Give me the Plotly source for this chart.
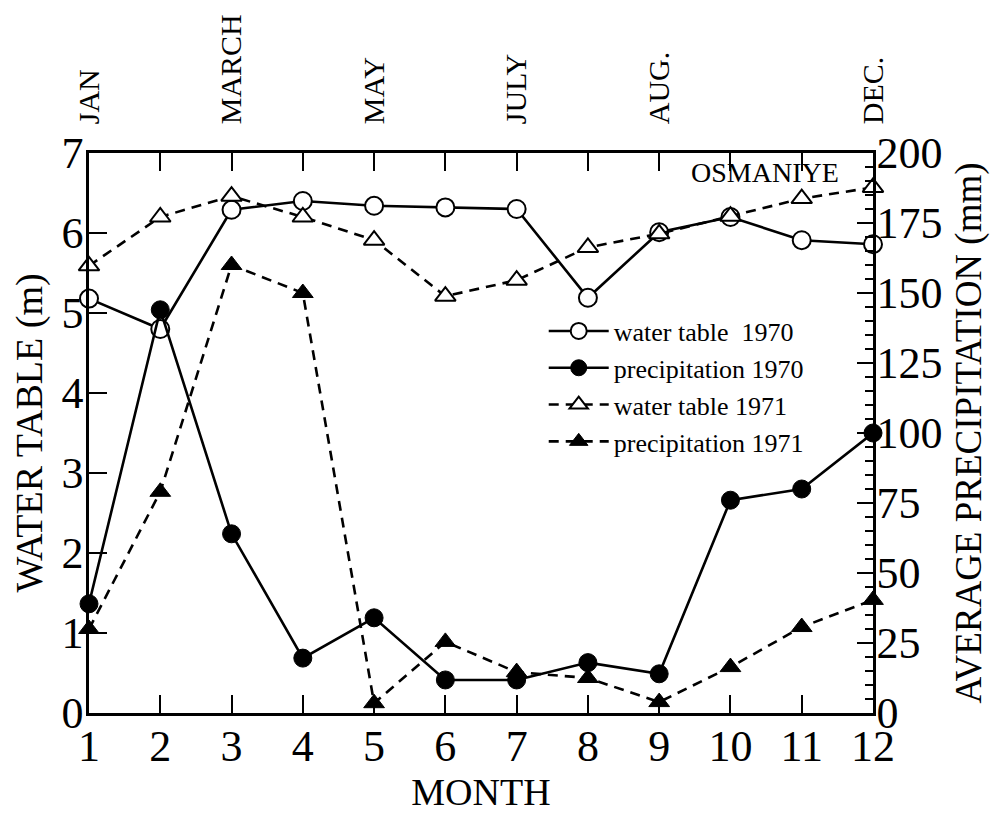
import plotly.graph_objects as go

months = [1, 2, 3, 4, 5, 6, 7, 8, 9, 10, 11, 12]
water_table_1970 = [5.18, 4.8, 6.29, 6.4, 6.34, 6.32, 6.3, 5.19, 6.01, 6.2, 5.91, 5.86]
water_table_1971 = [5.59, 6.2, 6.46, 6.2, 5.91, 5.21, 5.41, 5.82, 5.99, 6.21, 6.43, 6.57]
precip_1970 = [39, 144, 64, 19.6, 34, 11.8, 11.8, 18, 14, 76, 80, 100]
precip_1971 = [30, 79, 160, 150, 3.5, 25.4, 14.6, 12.5, 3.9, 16.4, 30.7, 40.4]
top_tick_vals = [1, 2, 3, 4, 5, 6, 7, 8, 9, 10, 11, 12]
top_tick_text = ["JAN", "", "MARCH", "", "MAY", "", "JULY", "", "AUG.", "", "", "DEC."]

FONT = "Liberation Serif, Times New Roman, serif"
BLACK = "black"
DASH = "10px,7px"
LW = 2.6

fig = go.Figure()

fig.add_trace(go.Scatter(
    x=months, y=water_table_1970, name="water table  1970",
    mode="lines+markers", yaxis="y", cliponaxis=False,
    line=dict(color=BLACK, width=LW),
    marker=dict(symbol="circle", size=18, color="white", line=dict(color=BLACK, width=2)),
))
fig.add_trace(go.Scatter(
    x=months, y=precip_1970, name="precipitation 1970",
    mode="lines+markers", yaxis="y2", cliponaxis=False,
    line=dict(color=BLACK, width=LW),
    marker=dict(symbol="circle", size=18, color=BLACK, line=dict(color=BLACK, width=1)),
))
fig.add_trace(go.Scatter(
    x=months, y=water_table_1971, name="water table 1971",
    mode="lines+markers", yaxis="y", cliponaxis=False,
    line=dict(color=BLACK, width=LW, dash=DASH),
    marker=dict(symbol="triangle-up", size=18, color="white", line=dict(color=BLACK, width=2)),
))
fig.add_trace(go.Scatter(
    x=months, y=precip_1971, name="precipitation 1971",
    mode="lines+markers", yaxis="y2", cliponaxis=False,
    line=dict(color=BLACK, width=LW, dash=DASH),
    marker=dict(symbol="triangle-up", size=18, color=BLACK, line=dict(color=BLACK, width=1)),
))
# invisible trace to anchor the top (month-name) axis
fig.add_trace(go.Scatter(
    x=months, y=water_table_1970, xaxis="x2", yaxis="y",
    mode="markers", marker=dict(opacity=0), showlegend=False, hoverinfo="skip",
))

fig.update_layout(
    width=992, height=807,
    margin=dict(l=81, r=127, t=145, b=102),
    paper_bgcolor="white", plot_bgcolor="white",
    font=dict(family=FONT, color=BLACK),
    showlegend=True,
    legend=dict(
        x=0.58, y=0.724, xanchor="left", yanchor="top",
        font=dict(family=FONT, size=26, color=BLACK),
        bgcolor="rgba(0,0,0,0)", itemwidth=60, tracegroupgap=0,
    ),
    xaxis=dict(
        range=[1, 12], tickvals=months, ticks="inside", ticklen=18, tickwidth=2,
        tickcolor=BLACK, showline=True, linecolor=BLACK, linewidth=2.5,
        showgrid=False, zeroline=False, tickfont=dict(size=44), automargin=False,
        ticklabelstandoff=-8,
        title=dict(text="MONTH", font=dict(size=38), standoff=0),
    ),
    xaxis2=dict(
        overlaying="x", side="top", range=[1, 12], tickvals=top_tick_vals,
        ticktext=top_tick_text, tickangle=-90, ticks="inside", ticklen=18, tickwidth=2,
        tickcolor=BLACK, showline=True, linecolor=BLACK, linewidth=2.5,
        showgrid=False, zeroline=False, tickfont=dict(size=30), automargin=False,
        ticklabelstandoff=20,
    ),
    yaxis=dict(
        range=[0, 7], dtick=1, ticks="inside", ticklen=18, tickwidth=2,
        tickcolor=BLACK, showline=True, linecolor=BLACK, linewidth=2.5,
        showgrid=False, zeroline=False, tickfont=dict(size=44), automargin=False,
        ticklabelstandoff=-6,
        title=dict(text="WATER TABLE (m)", font=dict(size=38), standoff=10),
    ),
    yaxis2=dict(
        overlaying="y", side="right", range=[0, 200], dtick=25,
        ticks="inside", ticklen=16, tickwidth=2, tickcolor=BLACK,
        minor=dict(dtick=5, ticks="inside", ticklen=8, tickwidth=2, tickcolor=BLACK),
        showline=True, linecolor=BLACK, linewidth=2.5, automargin=False,
        showgrid=False, zeroline=False, tickfont=dict(size=44),
        ticklabelstandoff=-8,
        title=dict(text="AVERAGE PRECIPITATION (mm)", font=dict(size=37), standoff=14),
    ),
    annotations=[dict(
        text="OSMANIYE", xref="paper", yref="paper", x=0.862, y=0.966,
        xanchor="center", yanchor="middle", showarrow=False,
        font=dict(family=FONT, size=28, color=BLACK),
    )],
)

fig.write_html("out.html")
